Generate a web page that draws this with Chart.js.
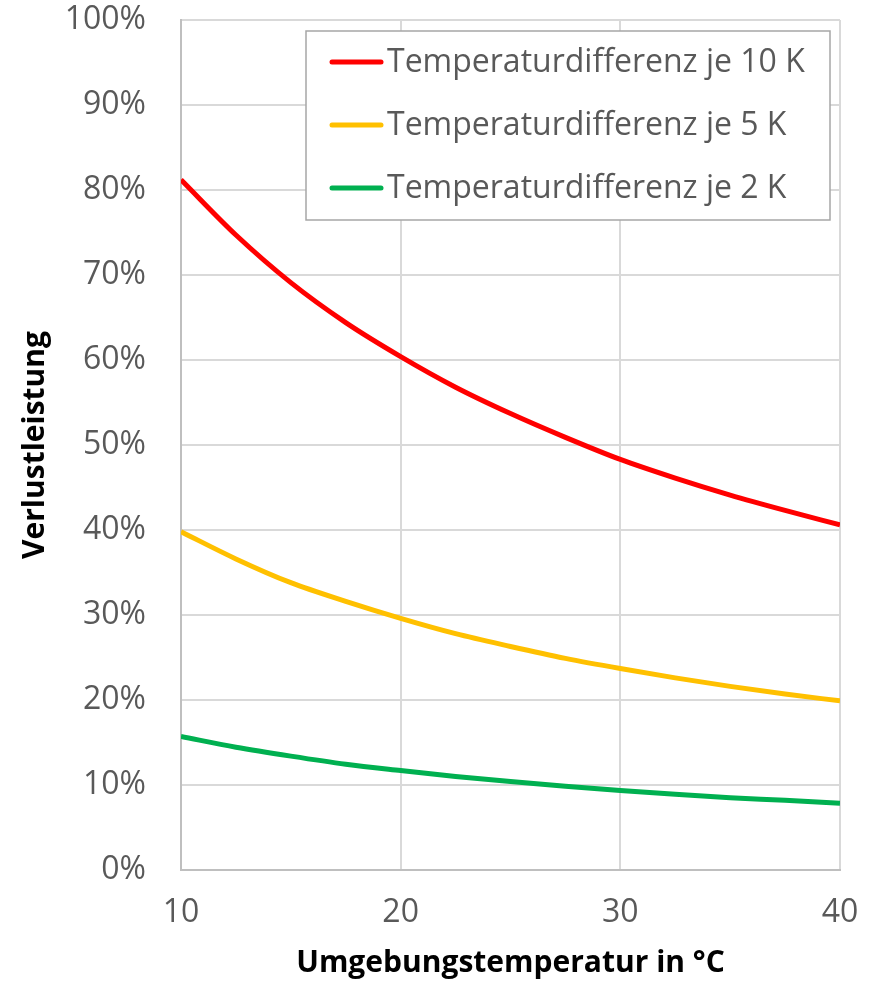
<!DOCTYPE html>
<html>
<head>
<meta charset="utf-8">
<script src="https://cdn.jsdelivr.net/npm/chart.js@4.4.0/dist/chart.umd.min.js"></script>
<style>
  body { margin: 0; background: #fff; }
  #wrap { width: 874px; height: 983px; }
</style>
</head>
<body>
<div id="wrap"><canvas id="lossChart" width="874" height="983"></canvas></div>
<script>
// Umgebungstemperatur in °C
const temps = [10, 12.5, 15, 17.5, 20, 22.5, 25, 27.5, 30, 32.5, 35, 37.5, 40];
// Verlustleistung in %
const loss10K = [81.2, 74.7, 69.1, 64.4, 60.4, 56.8, 53.7, 50.9, 48.3, 46.1, 44.1, 42.3, 40.6];
const loss5K = [39.8, 36.6, 33.8, 31.6, 29.6, 27.8, 26.3, 24.9, 23.7, 22.6, 21.6, 20.7, 19.9];
const loss2K = [15.7, 14.45, 13.4, 12.45, 11.7, 11.0, 10.4, 9.85, 9.35, 8.9, 8.5, 8.2, 7.85];
const seriesLabels = ['Temperaturdifferenz je 10 K', 'Temperaturdifferenz je 5 K', 'Temperaturdifferenz je 2 K'];
const seriesColors = ['#ff0000', '#ffc000', '#00b050'];
const xTicks = [10, 20, 30, 40];
const yTicks = [0, 10, 20, 30, 40, 50, 60, 70, 80, 90, 100];

const ctx = document.getElementById('lossChart').getContext('2d');
const tickColor = '#595959';
const fontFamily = '"Open Sans", sans-serif';

function toPoints(values) {
  return temps.map((t, i) => ({ x: t, y: values[i] }));
}

// legend with a frame, drawn inside the plot area (top right)
const boxedLegend = {
  id: 'boxedLegend',
  afterDraw(chart) {
    const c = chart.ctx;
    const area = chart.chartArea;
    const w = 524, h = 189;
    const left = area.right - 10 - w;
    const top = area.top + 11;
    c.save();
    c.fillStyle = '#fff';
    c.fillRect(left, top, w, h);
    c.strokeStyle = '#a6a6a6';
    c.lineWidth = 1.5;
    c.strokeRect(left, top, w, h);
    c.font = '32px ' + fontFamily;
    c.textBaseline = 'middle';
    chart.data.datasets.forEach((ds, i) => {
      const y = top + 31 + i * 63;
      c.strokeStyle = ds.borderColor;
      c.lineWidth = 5;
      c.lineCap = 'round';
      c.beginPath();
      c.moveTo(left + 26, y);
      c.lineTo(left + 75, y);
      c.stroke();
      c.fillStyle = tickColor;
      c.fillText(ds.label, left + 81, y + 1);
    });
    c.restore();
  }
};

const chart = new Chart(ctx, {
  type: 'line',
  data: {
    datasets: [
      { label: seriesLabels[0], data: toPoints(loss10K), borderColor: seriesColors[0] },
      { label: seriesLabels[1], data: toPoints(loss5K), borderColor: seriesColors[1] },
      { label: seriesLabels[2], data: toPoints(loss2K), borderColor: seriesColors[2] },
    ].map(ds => Object.assign(ds, {
      borderWidth: 5,
      pointRadius: 0,
      cubicInterpolationMode: 'monotone',
      fill: false,
    })),
  },
  options: {
    responsive: false,
    animation: false,
    layout: { padding: { top: 20, right: 34, left: 0, bottom: 0 } },
    plugins: {
      legend: { display: false },
      tooltip: { enabled: false },
    },
    scales: {
      x: {
        type: 'linear',
        min: 10,
        max: 40,
        afterBuildTicks: s => { s.ticks = xTicks.map(v => ({ value: v })); },
        afterFit: s => {
          s.height = 113;
          s.paddingLeft = 0;
          s.paddingRight = 0;
        },
        ticks: {
          color: tickColor,
          font: { family: fontFamily, size: 32 },
          padding: 24,
        },
        grid: { color: '#d9d9d9', lineWidth: 2, drawTicks: false },
        border: { color: '#bfbfbf', width: 2 },
        title: {
          display: true,
          text: 'Umgebungstemperatur in °C',
          color: '#000',
          font: { family: fontFamily, size: 30, weight: 'bold' },
          padding: { top: 0, bottom: 2 },
        },
      },
      y: {
        min: 0,
        max: 100,
        afterBuildTicks: s => { s.ticks = yTicks.map(v => ({ value: v })); },
        afterFit: s => {
          s.width = 181;
          s.paddingTop = 0;
          s.paddingBottom = 0;
        },
        ticks: {
          color: tickColor,
          font: { family: fontFamily, size: 32 },
          padding: 35,
          callback: v => v + '%',
        },
        grid: { color: '#d9d9d9', lineWidth: 2, drawTicks: false },
        border: { color: '#bfbfbf', width: 2 },
        title: {
          display: true,
          text: 'Verlustleistung',
          color: '#000',
          font: { family: fontFamily, size: 30, weight: 'bold' },
          padding: { top: 17, bottom: 0 },
        },
      },
    },
  },
  plugins: [boxedLegend],
});
</script>
</body>
</html>
